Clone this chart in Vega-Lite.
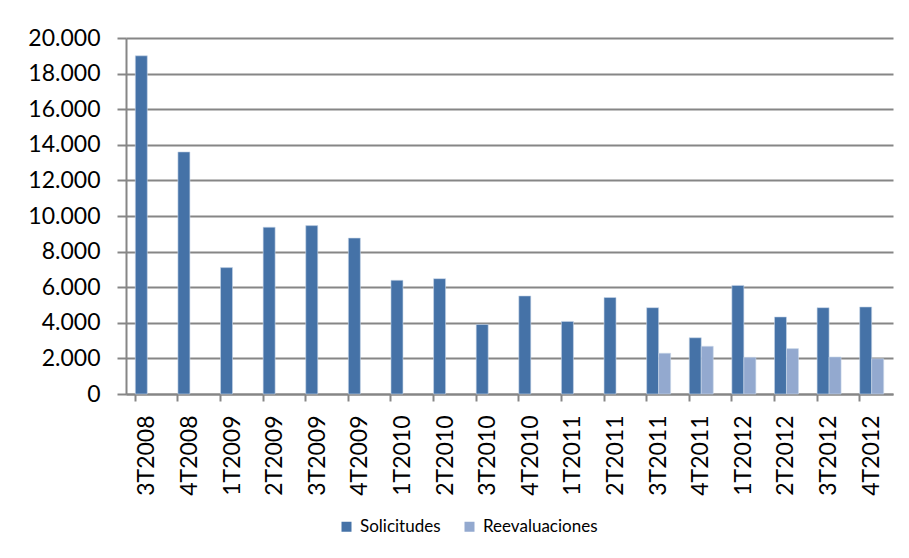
{
  "$schema": "https://vega.github.io/schema/vega-lite/v6.json",
  "width": 767,
  "height": 356,
  "autosize": {"type": "none"},
  "padding": {"left": 126, "top": 38, "right": 16, "bottom": 164},
  "background": "white",
  "config": {
    "font": "Lato",
    "view": {"stroke": null},
    "locale": {"number": {"decimal": ",", "thousands": ".", "grouping": [3], "currency": ["", " €"]}}
  },
  "data": {
    "values": [
      {"trimestre": "3T2008", "serie": "Solicitudes", "valor": 19000},
      {"trimestre": "4T2008", "serie": "Solicitudes", "valor": 13600},
      {"trimestre": "1T2009", "serie": "Solicitudes", "valor": 7100},
      {"trimestre": "2T2009", "serie": "Solicitudes", "valor": 9370},
      {"trimestre": "3T2009", "serie": "Solicitudes", "valor": 9460},
      {"trimestre": "4T2009", "serie": "Solicitudes", "valor": 8760},
      {"trimestre": "1T2010", "serie": "Solicitudes", "valor": 6390},
      {"trimestre": "2T2010", "serie": "Solicitudes", "valor": 6480},
      {"trimestre": "3T2010", "serie": "Solicitudes", "valor": 3910},
      {"trimestre": "4T2010", "serie": "Solicitudes", "valor": 5510},
      {"trimestre": "1T2011", "serie": "Solicitudes", "valor": 4080},
      {"trimestre": "2T2011", "serie": "Solicitudes", "valor": 5420},
      {"trimestre": "3T2011", "serie": "Solicitudes", "valor": 4850},
      {"trimestre": "4T2011", "serie": "Solicitudes", "valor": 3160},
      {"trimestre": "1T2012", "serie": "Solicitudes", "valor": 6100},
      {"trimestre": "2T2012", "serie": "Solicitudes", "valor": 4330},
      {"trimestre": "3T2012", "serie": "Solicitudes", "valor": 4850},
      {"trimestre": "4T2012", "serie": "Solicitudes", "valor": 4890},
      {"trimestre": "3T2011", "serie": "Reevaluaciones", "valor": 2290},
      {"trimestre": "4T2011", "serie": "Reevaluaciones", "valor": 2680},
      {"trimestre": "1T2012", "serie": "Reevaluaciones", "valor": 2060},
      {"trimestre": "2T2012", "serie": "Reevaluaciones", "valor": 2550},
      {"trimestre": "3T2012", "serie": "Reevaluaciones", "valor": 2080},
      {"trimestre": "4T2012", "serie": "Reevaluaciones", "valor": 1980}
    ]
  },
  "mark": {"type": "bar", "stroke": "#c9d6ea", "strokeWidth": 0.6},
  "encoding": {
    "x": {
      "field": "trimestre",
      "type": "nominal",
      "sort": null,
      "scale": {"paddingInner": 0.437, "paddingOuter": 0.2185},
      "axis": {
        "title": null,
        "labelAngle": -90,
        "labelAlign": "right",
        "labelBaseline": "middle",
        "labelFontSize": 23,
        "labelColor": "#000000",
        "labelPadding": 14,
        "bandPosition": 0,
        "ticks": true,
        "tickSize": 7,
        "tickColor": "#868686",
        "tickWidth": 2,
        "domainColor": "#868686",
        "domainWidth": 2,
        "grid": false
      }
    },
    "xOffset": {
      "field": "serie",
      "type": "nominal",
      "sort": ["Solicitudes", "Reevaluaciones"]
    },
    "y": {
      "field": "valor",
      "type": "quantitative",
      "scale": {"domain": [0, 20000], "nice": false},
      "axis": {
        "title": null,
        "format": ",d",
        "values": [0, 2000, 4000, 6000, 8000, 10000, 12000, 14000, 16000, 18000, 20000],
        "labelFontSize": 23,
        "labelColor": "#000000",
        "labelPadding": 17,
        "tickSize": 9,
        "tickColor": "#868686",
        "tickWidth": 2,
        "domainColor": "#868686",
        "domainWidth": 2,
        "gridColor": "#868686",
        "gridWidth": 2,
        "gridOpacity": 1
      }
    },
    "color": {
      "field": "serie",
      "type": "nominal",
      "sort": ["Solicitudes", "Reevaluaciones"],
      "scale": {"domain": ["Solicitudes", "Reevaluaciones"], "range": ["#4572A7", "#93A9CF"]},
      "legend": {
        "title": null,
        "orient": "none",
        "legendX": 212,
        "legendY": 480,
        "direction": "horizontal",
        "symbolType": "square",
        "symbolSize": 100,
        "symbolStrokeWidth": 0,
        "labelFontSize": 17,
        "labelColor": "#000000",
        "columnPadding": 20,
        "labelOffset": 5
      }
    }
  }
}
